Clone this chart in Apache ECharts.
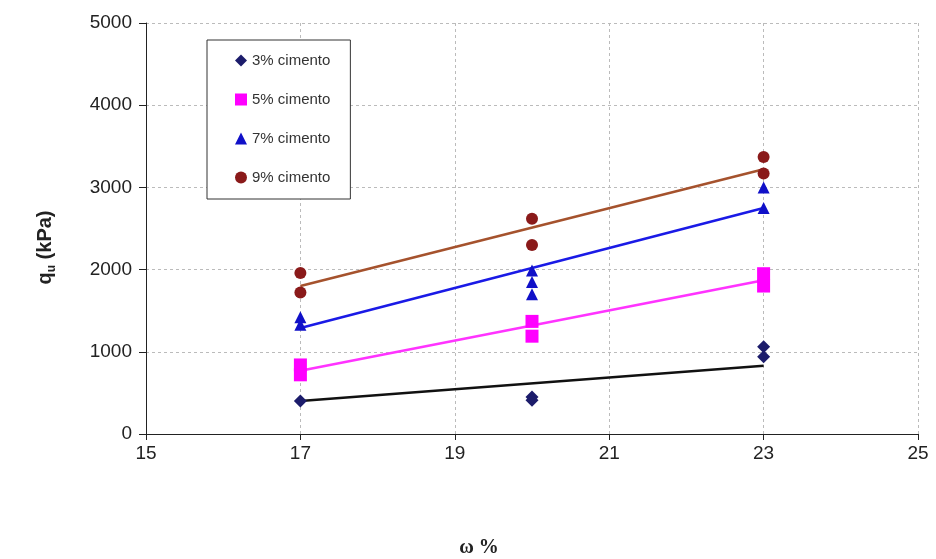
<!DOCTYPE html>
<html>
<head>
<meta charset="utf-8">
<script src="https://cdn.jsdelivr.net/npm/echarts@6/dist/echarts.min.js"></script>
<style>
  html, body { margin: 0; padding: 0; background: #fff; }
  #chart { width: 936px; height: 559px; }
</style>
</head>
<body>
<div id="chart"></div>
<script>
// pontos medidos (w %, qu kPa)
const cim3 = [[17, 400], [20, 450], [20, 410], [23, 1060], [23, 940]]
const cim5 = [[17, 840], [17, 720], [20, 1370], [20, 1190], [23, 1950], [23, 1800]]
const cim7 = [[17, 1420], [17, 1330], [20, 1990], [20, 1850], [20, 1700], [23, 3000], [23, 2750]]
const cim9 = [[17, 1960], [17, 1720], [20, 2620], [20, 2300], [23, 3370], [23, 3170]]

// linhas de tendência (extremos)
const trend3 = [[17, 400], [23, 830]]
const trend5 = [[17, 770], [23, 1870]]
const trend7 = [[17, 1290], [23, 2750]]
const trend9 = [[17, 1800], [23, 3220]]

const names = ['3% cimento', '5% cimento', '7% cimento', '9% cimento']

const chart = echarts.init(document.getElementById('chart'))

const scatter = (name, data, symbol, size, color) => ({
  name,
  type: 'scatter',
  data,
  symbol,
  symbolSize: size,
  itemStyle: { color, opacity: 1 },
  z: 3,
})

const trend = (data, color) => ({
  type: 'line',
  data,
  symbol: 'none',
  lineStyle: { color, width: 2.5 },
  silent: true,
  z: 2,
})

const option = {
  backgroundColor: '#fff',
  animation: false,
  textStyle: { fontFamily: 'Arial, Liberation Sans, sans-serif' },
  grid: { left: 146, right: 18, top: 23, bottom: 125, outerBoundsMode: 'none' },
  legend: {
    data: names,
    orient: 'vertical',
    left: 207,
    top: 40,
    itemWidth: 12,
    itemHeight: 12,
    itemGap: 24,
    padding: [13, 20, 14, 28],
    borderColor: '#333',
    borderWidth: 1,
    backgroundColor: '#fff',
    textStyle: { fontSize: 15, color: '#333' },
  },
  xAxis: {
    type: 'value',
    min: 15,
    max: 25,
    interval: 2,
    name: 'ω %',
    nameLocation: 'middle',
    nameGap: 104,
    nameTextStyle: {
      fontFamily: 'Liberation Serif, serif',
      fontWeight: 'bold',
      fontSize: 20,
      color: '#222',
      padding: [0, 106, 0, 0],
    },
    axisLine: { lineStyle: { color: '#222' } },
    axisTick: { inside: false, length: 6, lineStyle: { color: '#222' } },
    axisLabel: { fontSize: 19, color: '#222', margin: 10 },
    splitLine: { show: true, lineStyle: { color: '#bbb', type: [3, 3] } },
  },
  yAxis: {
    type: 'value',
    min: 0,
    max: 5000,
    interval: 1000,
    name: '{q|q}{u|u}{q| (kPa)}',
    nameLocation: 'middle',
    nameGap: 88,
    nameTextStyle: {
      padding: [0, 38, 0, 0],
      rich: {
        q: { fontSize: 20, fontWeight: 'bold', color: '#222', lineHeight: 26 },
        u: { fontSize: 12, fontWeight: 'bold', color: '#222', lineHeight: 26, verticalAlign: 'bottom', padding: [12, 0, 0, 0] },
      },
    },
    axisLine: { show: true, lineStyle: { color: '#222' } },
    axisTick: { show: true, length: 7, lineStyle: { color: '#222' } },
    axisLabel: { fontSize: 19, color: '#222', margin: 14, formatter: (v) => String(v) },
    splitLine: { show: true, lineStyle: { color: '#bbb', type: [3, 3] } },
  },
  series: [
    trend(trend3, '#111'),
    trend(trend5, '#ff33ff'),
    trend(trend7, '#1a1ae6'),
    trend(trend9, '#a5522d'),
    scatter(names[0], cim3, 'diamond', 13, '#1c1c6b'),
    scatter(names[1], cim5, 'rect', 13, '#ff00ff'),
    scatter(names[2], cim7, 'triangle', 12, '#1010c8'),
    scatter(names[3], cim9, 'circle', 12, '#8a1a1a'),
  ],
}

chart.setOption(option)
</script>
</body>
</html>
